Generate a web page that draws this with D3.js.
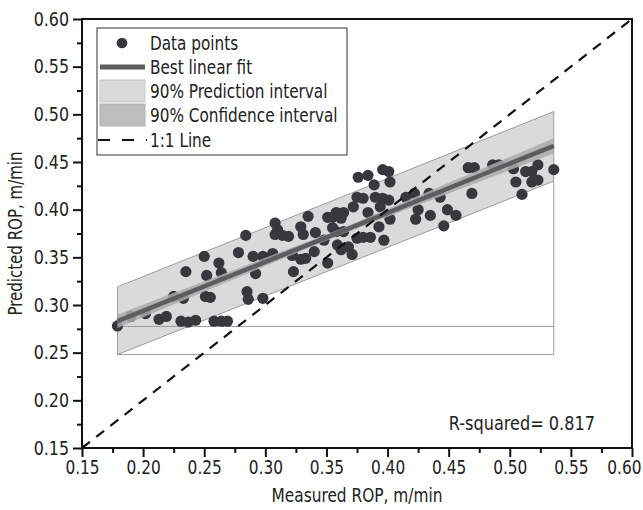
<!DOCTYPE html>
<html><head><meta charset="utf-8">
<script src="https://cdn.jsdelivr.net/npm/d3@7/dist/d3.min.js"></script>
<style>
body{margin:0;background:#fff;}
text{font-family:"DejaVu Sans Condensed","Liberation Sans Narrow","Liberation Sans",sans-serif;fill:#222;}
</style></head>
<body><svg id="c" width="643" height="510"></svg>
<script>
// Data
const measured = [0.179,0.190,0.202,0.213,0.219,0.225,0.233,0.235,0.231,0.237,0.243,0.250,0.252,0.255,0.258,0.264,0.269,0.262,0.264,0.251,
0.278,0.284,0.285,0.286,0.290,0.292,0.298,0.298,0.306,0.308,0.308,0.314,0.319,0.323,0.322,0.329,0.333,0.329,0.331,0.335,
0.341,0.340,0.351,0.355,0.362,0.358,0.348,0.351,0.359,0.368,0.371,0.362,0.376,0.384,0.396,0.401,0.402,0.389,0.375,0.380,
0.390,0.396,0.401,0.372,0.384,0.394,0.393,0.380,0.386,0.397,0.375,0.415,0.422,0.434,0.443,0.425,0.423,0.435,0.449,0.456,
0.446,0.402,0.358,0.364,0.355,0.364,0.466,0.471,0.486,0.491,0.503,0.513,0.518,0.523,0.536,0.505,0.518,0.523,0.469,0.510,0.310,0.322];
const predicted = [0.278,0.288,0.291,0.285,0.288,0.309,0.307,0.335,0.283,0.282,0.284,0.351,0.331,0.308,0.283,0.283,0.283,0.344,0.334,0.309,
0.355,0.373,0.314,0.306,0.351,0.333,0.351,0.307,0.354,0.386,0.374,0.373,0.372,0.335,0.353,0.348,0.349,0.382,0.374,0.393,
0.376,0.356,0.392,0.392,0.391,0.377,0.368,0.344,0.363,0.361,0.353,0.358,0.434,0.436,0.442,0.440,0.429,0.426,0.413,0.412,
0.413,0.412,0.410,0.403,0.397,0.403,0.382,0.371,0.371,0.368,0.370,0.413,0.417,0.417,0.413,0.400,0.390,0.394,0.400,0.394,
0.383,0.390,0.397,0.397,0.381,0.377,0.444,0.444,0.447,0.447,0.443,0.440,0.440,0.447,0.442,0.429,0.429,0.431,0.417,0.416,0.379,0.352];

// Fit and interval curves (read at the ends and middle of the fit range)
const bandX     = [0.179, 0.360, 0.536];
const fitY      = [0.283, 0.376, 0.467];
const predUpper = [0.319, 0.412, 0.503];
const predLower = [0.248, 0.340, 0.430];
const confUpper = [0.290, 0.379, 0.475];
const confLower = [0.276, 0.373, 0.459];
const predBase  = [0.248, 0.2775];   // outline artefacts below the band

const majorTicks = [0.15,0.20,0.25,0.30,0.35,0.40,0.45,0.50,0.55,0.60];
const minorTicks = [0.175,0.225,0.275,0.325,0.375,0.425,0.475,0.525,0.575];
const xTitle = "Measured ROP, m/min";
const yTitle = "Predicted ROP, m/min";
const legendLabels = ["Data points","Best linear fit","90% Prediction interval","90% Confidence interval","1:1 Line"];
const rsqText = "R-squared= 0.817";

const svg = d3.select("#c");
const L=82,R=632,T=19,B=448;
const x = d3.scaleLinear().domain([0.15,0.60]).range([L,R]);
const y = d3.scaleLinear().domain([0.15,0.60]).range([B,T]);

svg.append("defs").append("clipPath").attr("id","clip")
  .append("rect").attr("x",L).attr("y",T).attr("width",R-L).attr("height",B-T);
const plot = svg.append("g").attr("clip-path","url(#clip)");

const idx = bandX.map((d,i)=>i);
plot.append("path")
  .datum(idx)
  .attr("d", d3.area().x(i=>x(bandX[i])).y0(i=>y(predLower[i])).y1(i=>y(predUpper[i])))
  .attr("fill","#d9dada").attr("stroke","#9a9c9c").attr("stroke-width",1);
const x0=bandX[0], x1=bandX[bandX.length-1];
plot.append("path")
  .attr("d", d3.line()([[x(x0),y(predLower[0])],[x(x0),y(predBase[0])],[x(x1),y(predBase[0])],[x(x1),y(predLower[predLower.length-1])]]))
  .attr("fill","none").attr("stroke","#9a9c9c").attr("stroke-width",1);
plot.append("line")
  .attr("x1",x(x0)).attr("x2",x(x1)).attr("y1",y(predBase[1])).attr("y2",y(predBase[1]))
  .attr("stroke","#9a9c9c").attr("stroke-width",1);

plot.append("g").selectAll("circle").data(measured).join("circle")
  .attr("cx",(d)=>x(d)).attr("cy",(d,i)=>y(predicted[i])).attr("r",5.6)
  .attr("fill","#35393b");

plot.append("path").datum(idx)
  .attr("d", d3.area().x(i=>x(bandX[i])).y0(i=>y(confLower[i])).y1(i=>y(confUpper[i])))
  .attr("fill","#a9abab").attr("opacity",0.85);
plot.append("path").datum(idx)
  .attr("d", d3.line().x(i=>x(bandX[i])).y(i=>y(fitY[i])))
  .attr("fill","none").attr("stroke","#5b5e5f").attr("stroke-width",4.5);
plot.append("line")
  .attr("x1",x(0.15)).attr("y1",y(0.15)).attr("x2",x(0.60)).attr("y2",y(0.60))
  .attr("stroke","#111").attr("stroke-width",2.2).attr("stroke-dasharray","10,8");

svg.append("rect").attr("x",L).attr("y",T).attr("width",R-L).attr("height",B-T)
  .attr("fill","none").attr("stroke","#111").attr("stroke-width",2);

const fmt = d3.format(".2f");
function styleAxis(g){
  g.select(".domain").remove();
  g.selectAll(".tick line").attr("stroke","#111").attr("stroke-width",2);
  g.selectAll(".tick text").style("font-size","19px").attr("fill","#222");
}
const xAx = svg.append("g").attr("transform",`translate(0,${B})`)
  .call(d3.axisBottom(x).tickValues(majorTicks).tickSize(9).tickPadding(4).tickFormat(fmt)).call(styleAxis);
xAx.selectAll(".tick text").attr("transform","scale(0.9,1)");
// keep the last label inside the window
xAx.selectAll(".tick text").filter(d=>d===majorTicks[majorTicks.length-1])
  .attr("text-anchor","end").attr("x",10);
svg.append("g").attr("transform",`translate(0,${B})`)
  .call(d3.axisBottom(x).tickValues(minorTicks).tickSize(5).tickFormat("")).call(styleAxis);
const yAx = svg.append("g").attr("transform",`translate(${L},0)`)
  .call(d3.axisLeft(y).tickValues(majorTicks).tickSize(9).tickPadding(4).tickFormat(fmt)).call(styleAxis);
yAx.selectAll(".tick text").attr("x",-14).attr("transform","scale(0.93,1)");
svg.append("g").attr("transform",`translate(${L},0)`)
  .call(d3.axisLeft(y).tickValues(minorTicks).tickSize(5).tickFormat("")).call(styleAxis);

function ctext(g, tx, ty, sx, rot, size, anchor, str){
  return g.append("text")
    .attr("transform",`translate(${tx},${ty})${rot?` rotate(${rot})`:""} scale(${sx},1)`)
    .attr("text-anchor",anchor).style("font-size",size+"px").text(str);
}
ctext(svg,(L+R)/2,502,0.9,0,19,"middle",xTitle);
ctext(svg,22,(T+B)/2,0.88,-90,19,"middle",yTitle);
ctext(svg,595,430,0.92,0,19.5,"end",rsqText);

// legend
const lg = svg.append("g");
lg.append("rect").attr("x",97).attr("y",28).attr("width",250).attr("height",127)
  .attr("fill","#fff").attr("stroke","#555").attr("stroke-width",1.2);
const rowY = [43,67,91,115,140];
lg.append("circle").attr("cx",122).attr("cy",rowY[0]).attr("r",5.3).attr("fill","#35393b");
lg.append("line").attr("x1",100).attr("x2",145).attr("y1",rowY[1]).attr("y2",rowY[1])
  .attr("stroke","#5b5e5f").attr("stroke-width",5);
lg.append("rect").attr("x",100).attr("y",rowY[2]-11).attr("width",45).attr("height",22)
  .attr("fill","#d9dada").attr("stroke","#c6c8c8").attr("stroke-width",1);
lg.append("rect").attr("x",100).attr("y",rowY[3]-11).attr("width",45).attr("height",22)
  .attr("fill","#bcbebe").attr("stroke","#b0b2b2").attr("stroke-width",1);
lg.append("line").attr("x1",98).attr("x2",147).attr("y1",rowY[4]).attr("y2",rowY[4])
  .attr("stroke","#111").attr("stroke-width",2.2).attr("stroke-dasharray","12,12");
legendLabels.forEach((s,i)=>ctext(lg,150,rowY[i]+7,0.87,0,19.5,"start",s));
</script>
</body></html>
